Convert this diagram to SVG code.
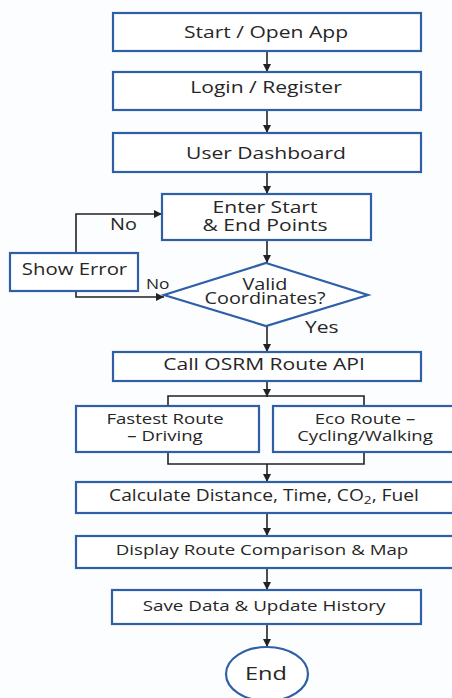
<svg xmlns="http://www.w3.org/2000/svg" width="452" height="698" viewBox="0 0 452 698">
<defs>
<style>
.box{fill:#ffffff;stroke:#2f5fa7;stroke-width:2.2}
.t{font-family:"Open Sans","Noto Sans",sans-serif;font-size:17px;fill:#262626;text-anchor:middle}
.lbl{font-family:"Open Sans","Noto Sans",sans-serif;font-size:16px;fill:#262626}
.c{fill:none;stroke:#222;stroke-width:1.6}
</style>
<marker id="ah" viewBox="0 0 10 10" refX="10" refY="5" markerWidth="8" markerHeight="8" markerUnits="userSpaceOnUse" orient="auto">
<path d="M0,0 L10,5 L0,10 z" fill="#222"/>
</marker>
</defs>
<rect width="452" height="698" fill="#fcfdfe"/>
<g id="connectors">
<path class="c" d="M267,51 V72" marker-end="url(#ah)"/>
<path class="c" d="M267,110 V133" marker-end="url(#ah)"/>
<path class="c" d="M267,172 V194" marker-end="url(#ah)"/>
<path class="c" d="M267,240 V263" marker-end="url(#ah)"/>
<path class="c" d="M76,253 V214 H162" marker-end="url(#ah)"/>
<path class="c" d="M76,291 V297 H164" marker-end="url(#ah)"/>
<path class="c" d="M267,326 V352" marker-end="url(#ah)"/>
<path class="c" d="M267,381 V397" marker-end="url(#ah)"/>
<path class="c" d="M168,406 V396 H364 V406"/>
<path class="c" d="M168,452 V464 H364 V452"/>
<path class="c" d="M267,464 V482" marker-end="url(#ah)"/>
<path class="c" d="M267,513 V536" marker-end="url(#ah)"/>
<path class="c" d="M267,568 V590" marker-end="url(#ah)"/>
<path class="c" d="M267,624 V647" marker-end="url(#ah)"/>
<text class="lbl" transform="translate(110,230) scale(1.24,1)">No</text>
<text class="lbl" transform="translate(146,288.5) scale(1.24,1)" style="font-size:14px">No</text>
<text class="lbl" transform="translate(305,332.5) scale(1.24,1)" style="font-size:17px">Yes</text>
</g>
<g id="start"><rect class="box" x="113" y="13" width="308" height="38"/><text class="t" transform="translate(266,37.5) scale(1.24,1)">Start / Open App</text></g>
<g id="login"><rect class="box" x="113" y="72" width="308" height="38"/><text class="t" transform="translate(266,92.5) scale(1.24,1)">Login / Register</text></g>
<g id="dashboard"><rect class="box" x="113" y="133" width="308" height="39"/><text class="t" transform="translate(266,158.5) scale(1.24,1)">User Dashboard</text></g>
<g id="enter"><rect class="box" x="162" y="194" width="209" height="46"/><text class="t" transform="translate(265,212.5) scale(1.24,1)"><tspan x="0" y="0">Enter Start</tspan><tspan x="0" y="18.5">&amp; End Points</tspan></text></g>
<g id="error"><rect class="box" x="10" y="253" width="128" height="38"/><text class="t" transform="translate(74.5,275) scale(1.24,1)" style="font-size:16.4px">Show Error</text></g>
<g id="valid"><polygon class="box" points="266,263 368,295 266,326 164,295"/><text class="t" transform="translate(265,289.5) scale(1.24,1)" style="font-size:16px"><tspan x="0" y="0">Valid</tspan><tspan x="0" y="14.5">Coordinates?</tspan></text></g>
<g id="osrm"><rect class="box" x="113" y="352" width="308" height="29"/><text class="t" transform="translate(264,370) scale(1.24,1)">Call OSRM Route API</text></g>
<g id="fastest"><rect class="box" x="76" y="406" width="183" height="46"/><text class="t" transform="translate(165,424) scale(1.24,1)" style="font-size:15px"><tspan x="0" y="0">Fastest Route</tspan><tspan x="0" y="17.5">– Driving</tspan></text></g>
<g id="eco"><rect class="box" x="273" y="406" width="183" height="46"/><text class="t" transform="translate(365,424) scale(1.24,1)" style="font-size:15px"><tspan x="0" y="0">Eco Route –</tspan><tspan x="0" y="17.5">Cycling/Walking</tspan></text></g>
<g id="calc"><rect class="box" x="76" y="482" width="384" height="31"/><text class="t" transform="translate(264,500.5) scale(1.24,1)" style="font-size:15.5px">Calculate Distance, Time, CO<tspan font-size="11" dy="3">2</tspan><tspan dy="-3">, Fuel</tspan></text></g>
<g id="display"><rect class="box" x="76" y="536" width="384" height="32"/><text class="t" transform="translate(262,554.5) scale(1.24,1)" style="font-size:15.1px">Display Route Comparison &amp; Map</text></g>
<g id="save"><rect class="box" x="112" y="590" width="309" height="34"/><text class="t" transform="translate(264,610.5) scale(1.24,1)" style="font-size:15.2px">Save Data &amp; Update History</text></g>
<g id="end"><ellipse class="box" cx="267" cy="674" rx="41" ry="27"/><text class="t" transform="translate(266,679.5) scale(1.24,1)" style="font-size:19px">End</text></g>
</svg>
